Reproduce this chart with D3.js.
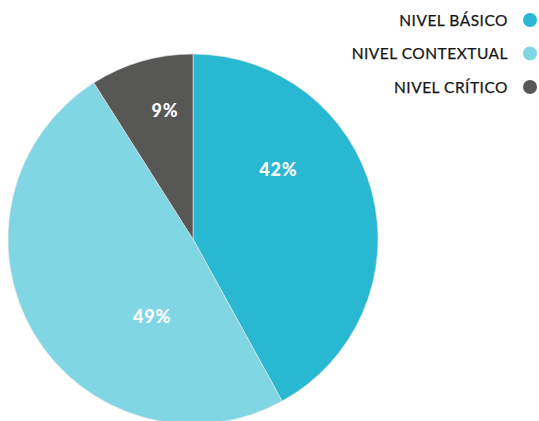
<!DOCTYPE html>
<html>
<head>
<meta charset="utf-8">
<script src="https://cdn.jsdelivr.net/npm/d3@7"></script>
<style>
  body { margin: 0; background: #fff; }
  .legend-text { font-family: "Lato", sans-serif; font-size: 15.5px; letter-spacing: 0.5px; fill: #151515; stroke: #151515; stroke-width: 0.25px; }
  .pct { font-family: "Lato", sans-serif; font-size: 18px; font-weight: 900; fill: #fff; letter-spacing: 0.8px; }
</style>
</head>
<body>
<svg width="539" height="421"></svg>
<script>
"use strict";

const categories = ["NIVEL BÁSICO", "NIVEL CONTEXTUAL", "NIVEL CRÍTICO"];
const values = [42, 49, 9];
const colors = ["#28b8d2", "#80d6e3", "#575756"];

const svg = d3.select("svg");

const radius = 185;
const cx = 193;
const cy = 239;

const data = categories.map((c, i) => ({ name: c, value: values[i], color: colors[i] }));

const pie = d3.pie().sort(null).value(d => d.value);
const arcs = pie(data);

const arc = d3.arc().innerRadius(0).outerRadius(radius);

const g = svg.append("g").attr("transform", `translate(${cx},${cy})`);

g.selectAll("path")
  .data(arcs)
  .enter()
  .append("path")
  .attr("d", arc)
  .attr("fill", d => d.data.color)
  .attr("stroke", "#e8e8e8")
  .attr("stroke-width", 0.6);

// label placement inside each slice: fraction along the slice and distance from centre
const labelPlace = [
  { t: 0.337, r: 110 },
  { t: 0.32, r: 88 },
  { t: 0.62, r: 131 }
];

g.selectAll("text.pct")
  .data(arcs)
  .enter()
  .append("text")
  .attr("class", "pct")
  .attr("text-anchor", "middle")
  .attr("dy", "0.35em")
  .attr("transform", (d, i) => {
    const a = d.startAngle + labelPlace[i].t * (d.endAngle - d.startAngle);
    const r = labelPlace[i].r;
    return `translate(${r * Math.sin(a)},${-r * Math.cos(a)})`;
  })
  .text(d => d.data.value + "%");

const yLegend = d3.scalePoint().domain(categories).range([20, 87]);

const legend = svg.append("g");

legend.selectAll("circle")
  .data(data)
  .enter()
  .append("circle")
  .attr("cx", 530)
  .attr("cy", d => yLegend(d.name))
  .attr("r", 7)
  .attr("fill", d => d.color);

legend.selectAll("text")
  .data(data)
  .enter()
  .append("text")
  .attr("class", "legend-text")
  .attr("x", 508)
  .attr("y", d => yLegend(d.name))
  .attr("dy", "0.36em")
  .attr("text-anchor", "end")
  .text(d => d.name);
</script>
</body>
</html>
